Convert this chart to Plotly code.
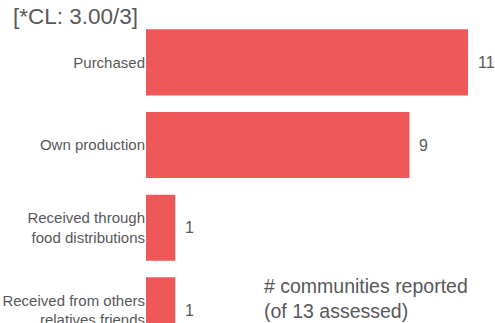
import plotly.graph_objects as go

categories = ["Purchased", "Own production", "Received through<br>food distributions",
              "Received from others<br>relatives friends"]
values = [11, 9, 1, 1]
title_text = "[*CL: 3.00/3]"
note_text = "# communities reported<br>(of 13 assessed)"

BAR = "#EE5859"
TXT = "#58585A"
FONT = "Liberation Sans, Arial"

fig = go.Figure()
fig.add_trace(go.Bar(
    x=values, y=categories, orientation="h",
    marker=dict(color=BAR, line=dict(width=0)),
    hoverinfo="skip",
))

for c, v in zip(categories, values):
    fig.add_annotation(x=v, y=c, xref="x", yref="y", text=str(v), showarrow=False,
                       xanchor="left", yanchor="middle", xshift=8,
                       font=dict(family=FONT, size=16, color=TXT))

fig.add_annotation(x=3.96, y=0.166, xref="x", yref="paper", text=note_text, showarrow=False,
                   xanchor="left", yanchor="top", align="left",
                   font=dict(family=FONT, size=19.5, color=TXT))

fig.update_layout(
    width=495, height=323,
    margin=dict(l=146, r=27, t=21, b=0, autoexpand=False),
    paper_bgcolor="white", plot_bgcolor="white",
    bargap=0.2,
    showlegend=False,
    title=dict(text=title_text, x=13 / 495, xanchor="left", xref="container",
               y=1 - 16 / 323, yanchor="middle", yref="container",
               font=dict(family=FONT, size=22.5, color=TXT)),
    xaxis=dict(range=[0, 11], visible=False, fixedrange=True, automargin=False),
    yaxis=dict(categoryorder="array", categoryarray=categories,
               range=[3.152, -0.5], showgrid=False, zeroline=False, showline=False,
               ticks="", tickfont=dict(family=FONT, size=15, color=TXT),
               fixedrange=True, automargin=False),
)

fig.write_html("out.html", config={"displayModeBar": False},
               post_script="document.body.style.margin='0';document.body.style.overflow='hidden';")
